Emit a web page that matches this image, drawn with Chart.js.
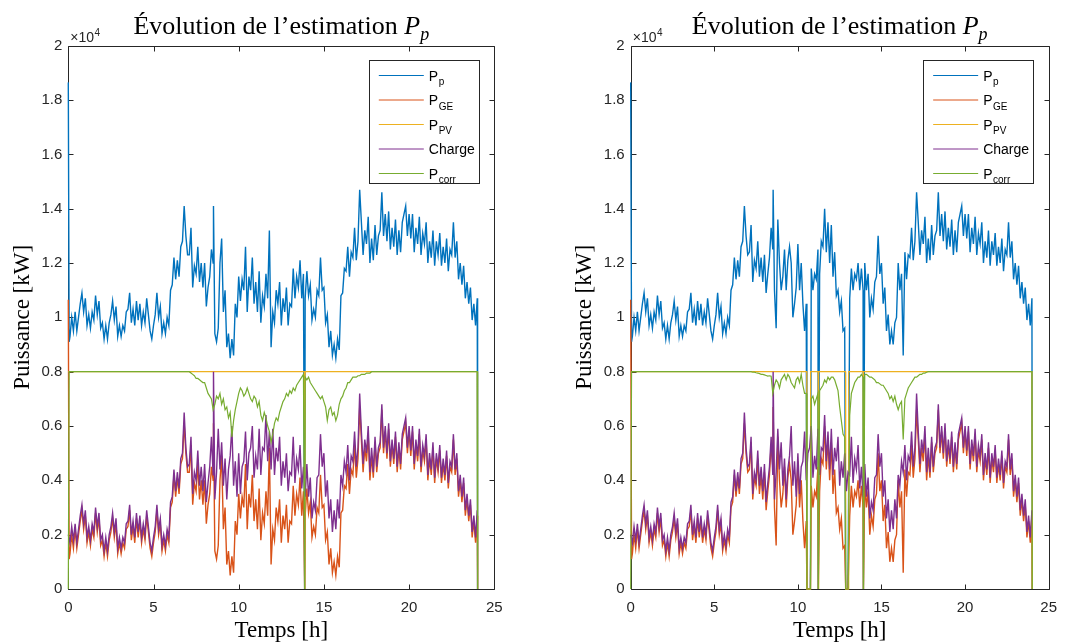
<!DOCTYPE html>
<html><head><meta charset="utf-8">
<script src="https://cdn.jsdelivr.net/npm/chart.js@4.4.1/dist/chart.umd.min.js"></script>
<style>
html,body{margin:0;padding:0;background:#fff;}
#wrap{position:relative;width:1067px;height:642px;overflow:hidden;background:#fff;}
canvas{position:absolute;top:0;}
</style></head><body>
<div id="wrap">
<canvas id="left" width="560" height="642" style="left:0px"></canvas>
<canvas id="right" width="507" height="642" style="left:560px"></canvas>
</div>
<script>
// ================= DATA (values in units of 100 kW, i.e. axis ×10^4 → 200 = 2) =================
const STEP_H = 0.1;            // sampling step of the curves [h]
const xTicks = [0, 5, 10, 15, 20, 25];
const yTicks = [0, 20, 40, 60, 80, 100, 120, 140, 160, 180, 200];

// Charge (load), identical in both plots, samples t = 0.1 … 24.0 h
const chargeFrom = 0.1;
const charge = [
 17,23,18,24,17,22,27,31,24,29,  19,23,18,24,21,30,23,28,18,20,
 14,19,14,20,23,28,21,26,15,19,  15,19,17,24,25,31,20,25,19,28,
 21,27,19,24,20,29,23,17,14,19,  23,31,22,26,16,20,16,22,19,32,
 34,44,36,43,37,48,50,65,52,45,  46,56,35,43,40,51,38,45,36,46,
 32,39,45,56,42,33,43,59,44,54,  38,48,33,44,49,60,38,47,34,50,
 35,45,47,58,40,50,52,60,41,49,  44,59,42,52,51,64,47,58,44,59,
 42,52,47,56,38,47,41,50,36,43,  42,56,39,48,44,53,37,45,34,46,
 34,41,26,32,29,41,42,57,45,50,  34,40,26,33,21,29,22,33,26,42,
 38,47,43,53,40,49,47,58,45,52,  72,58,46,55,50,60,43,52,43,56,
 45,52,54,68,52,60,50,61,47,55,  48,58,45,54,46,57,60,63,52,60,
 51,60,46,55,49,59,45,53,49,57,  42,50,44,54,41,50,45,53,41,48,
 42,51,39,47,45,57,44,50,36,42,  34,41,29,35,27,33,21,27,19,29];
const chargeExtra = [[0, 20], [8.52, 80]];

// Shared morning (0.1 … 7.0 h) and evening (18.1 … 24.0 h) samples of P_GE and P_p
const morningFrom = 0.1, eveningFrom = 18.1, dayFrom = 7.1;
const pgeMorning = [
 13,20,15,22,15,20,25,29,22,27,  17,21,16,22,19,28,21,26,16,18,
 12,17,12,18,21,26,19,24,13,17,  13,17,15,22,23,29,18,23,17,26,
 19,25,17,22,18,27,21,15,12,17,  21,29,20,24,14,18,14,20,17,30,
 32,42,34,41,35,46,48,61,50,43];
const ppMorning = [
 93,100,95,102,95,100,105,109,102,107,  97,101,96,102,99,108,101,106,96,98,
 92,97,92,98,101,106,99,104,93,97,      93,97,95,102,103,109,98,103,97,106,
 99,105,97,102,98,107,101,95,92,97,     101,109,100,104,94,98,94,100,97,110,
 112,122,114,121,115,126,128,141,130,123];
const pgeEvening = [
 43,50,52,66,50,58,48,59,45,53,  46,56,43,52,44,55,58,61,50,58,
 49,58,44,53,47,57,43,51,47,55,  40,48,42,52,39,48,43,51,39,46,
 40,49,37,45,43,55,42,48,34,40,  32,39,27,33,25,31,19,25,17,27];
const ppEvening = [
 123,130,132,146,130,138,128,139,125,133,  126,136,123,132,124,135,138,141,130,138,
 129,138,124,133,127,137,123,131,127,135,  120,128,122,132,119,128,123,131,119,126,
 120,129,117,125,123,135,122,128,114,120,  112,119,107,113,105,111,99,105,97,107];
const ppStart = [[0, 186.5], [0.05, 91]];
const pgeStart = [[0, 106.5], [0.05, 11]];
const pcorrFlat = [[0, 0], [0.05, 80], [7.0, 80], [18.1, 80], [24, 80], [24.02, 0]];

// ---- Left plot, day samples 7.1 … 18.0 h ----
const pgeLeftDay = [
 43,53,31,39,36,46,33,40,31,40,  24,31,35,45,40,14,11,16,40,49,
 22,30,9,14,5,12,6,25,20,35,     26,34,30,46,22,35,30,42,25,33,
 22,37,18,28,24,36,27,52,9,22,   18,30,25,33,17,27,22,31,17,25,
 24,38,27,35,31,41,27,36,27,37,  28,32,19,23,20,30,28,42,30,31,
 18,21,9,15,6,10,5,12,8,28,      29,38,37,46,35,44,42,53,41,48,
 67,55,43,52,47,57,40,49,41,54];
const ppLeftDay = [
 123,133,111,119,116,126,113,120,111,120,  104,111,115,125,120,94,91,96,120,129,
 102,110,89,94,85,92,86,105,100,115,       106,114,110,126,102,115,110,122,105,113,
 102,117,98,108,104,116,107,132,89,102,    98,110,105,113,97,107,102,111,97,105,
 104,118,107,115,111,121,107,116,107,117,  108,112,99,103,100,110,108,122,110,111,
 98,101,89,95,86,90,85,92,88,108,          109,118,117,126,115,124,122,133,121,128,
 147,135,123,132,127,137,120,129,121,134];
const pcorrLeftDay = [
 80,79.5,79,78.5,77.5,77.5,77,76.5,76,76,  74,72,71,70,66,68,71,70,72,68,
 70,66,67,63,65,56,62,66,69,72,            74,73,71,72,74,72,70,69,71,70,
 67,69,64,62,65,63,60,58,54,57,            61,63,62,65,67,69,70,72,71,73,
 72,74,73,75,76,77,78,79,78,77,            78,76,75,74,73,72,71,70,71,69,
 67,62,66,67,64,65,62,64,68,70,            71,73,74,76,76,77,78,78,78,78.5,
 78.5,79,79,79,79.5,79.5,79.5,80,80,80];
const ppvLeft = [[0,80],[13.86,80],[13.87,0],[13.89,0],[13.9,80],[24,80],[24.02,0]];
const ppLeftExtra = [[8.52,141],[13.87,0],[13.89,0],[24.02,0]];
const pgeLeftExtra = [[8.52,61],[13.87,0],[13.89,0],[24.02,0]];
const pcorrLeftExtra = [[13.87,0],[13.89,0]];

// ---- Right plot, day samples 7.1 … 18.0 h ----
const pgeRightDay = [
 44,54,33,41,38,48,35,42,33,43,  29,36,42,53,45,30,16,56,40,30,
 35,45,30,41,46,40,20,25,31,47,  30,40,25,15,25,0,0,38,30,36,
 34,45,36,48,46,60,44,55,40,54,  35,44,28,30,22,26,15,16,0,0,
 27,38,30,36,34,40,30,38,30,40,  30,36,20,27,23,33,35,50,36,40,
 25,31,15,21,10,15,10,18,20,40,  30,36,6,44,34,43,42,53,41,48,
 66,55,43,52,47,57,40,49,41,54];
const ppRightDay = [
 124,134,113,121,118,128,115,122,113,123,  109,116,122,133,125,110,96,136,120,110,
 115,125,110,121,126,120,100,105,111,127,  110,120,105,95,105,0,0,118,110,116,
 114,125,116,128,126,140,124,135,120,134,  115,124,108,110,102,106,95,96,0,0,
 107,118,110,116,114,120,110,118,110,120,  110,116,100,107,103,113,115,130,116,120,
 105,111,95,101,90,95,90,98,100,120,       110,116,86,124,114,123,122,133,121,128,
 146,135,123,132,127,137,120,129,121,134];
const pcorrRightDay = [
 80,80,79.8,79.8,79.6,79.5,79.3,79,79,78.8,  78.6,78.4,78.5,78.3,72,75,77,76,74,77,
 78,79,77,79,78,76,75,74,77,78,              76,79,75,72,72,0,0,70,71,68,
 70,72,73,74,75,77,76,78,77,78,              78,77,75,73,67,62,57,56,0,0,
 64,72,74,76,77,78,78,79,78,79,              79,78.5,78,78,77.5,77,76,76,75.5,75,
 75,74,73,72,70,71,69,71,68,66,              68,69,55,70,72,74,75,76,77,78,
 78,78.5,79,79,79.5,79.5,79.8,80,80,80];
const ppvRight = [[0,80],[10.53,80],[10.54,0],[10.75,0],[10.76,80],[11.21,80],[11.22,0],[11.25,0],[11.26,80],
 [12.85,80],[12.86,0],[13.03,0],[13.04,80],[13.9,80],[13.91,0],[13.93,0],[13.94,80],[24,80],[24.02,0]];
const rightDrops = [[10.54,0],[10.75,0],[11.22,0],[11.25,0],[12.86,0],[13.03,0],[13.91,0],[13.93,0]];
const ppRightExtra = [[8.52,147],[24.02,0]];
const pgeRightExtra = [[8.52,67],[24.02,0]];

const legendItems = [
  {main:'P', sub:'p'}, {main:'P', sub:'GE'}, {main:'P', sub:'PV'}, {main:'Charge', sub:''}, {main:'P', sub:'corr'}
];
const titleText = 'Évolution de l’estimation ';
const xLabel = 'Temps [h]';
const yLabel = 'Puissance [kW]';

// ================= STYLE / BUILD =================
const COLORS = ['#0072BD', '#D95319', '#EDB120', '#7E2F8E', '#77AC30'];
const INK = '#262626';

function sampled(from, vals) {
  return vals.map((v, i) => ({x: Math.round((from + i * STEP_H) * 100) / 100, y: v}));
}
function pairs(list) { return (list || []).map(p => ({x: p[0], y: p[1]})); }
function merge(...parts) {
  const pts = [].concat(...parts);
  return pts.map((p, i) => ({p, i})).sort((a, b) => (a.p.x - b.p.x) || (a.i - b.i)).map(o => o.p);
}

const matlabAxes = {
  id: 'matlabAxes',
  beforeDatasetsDraw(chart) {
    const {ctx, chartArea: a, scales: {x, y}} = chart;
    ctx.save();
    ctx.strokeStyle = INK; ctx.lineWidth = 1;
    const L = Math.round(a.left) + 0.5, R = Math.round(a.right) + 0.5;
    const T = Math.round(a.top) + 0.5, B = Math.round(a.bottom) + 0.5;
    ctx.beginPath();
    ctx.rect(L, T, R - L, B - T);
    xTicks.forEach(v => {
      const px = Math.round(x.getPixelForValue(v)) + 0.5;
      ctx.moveTo(px, B); ctx.lineTo(px, B - 5);
      ctx.moveTo(px, T); ctx.lineTo(px, T + 5);
    });
    yTicks.forEach(v => {
      const py = Math.round(y.getPixelForValue(v)) + 0.5;
      ctx.moveTo(L, py); ctx.lineTo(L + 5, py);
      ctx.moveTo(R, py); ctx.lineTo(R - 5, py);
    });
    ctx.stroke();
    ctx.restore();
  },
  afterDraw(chart) {
    const {ctx, chartArea: a} = chart;
    const cx = (a.left + a.right) / 2;
    ctx.save();
    ctx.fillStyle = '#000';
    ctx.textBaseline = 'alphabetic';
    // Title
    ctx.font = '26px "Liberation Serif"';
    const w1 = ctx.measureText(titleText).width;
    ctx.font = 'italic 26px "Liberation Serif"';
    const w2 = ctx.measureText('P').width;
    ctx.font = 'italic 18px "Liberation Serif"';
    const w3 = ctx.measureText('p').width;
    let tx = cx - (w1 + w2 + w3) / 2;
    ctx.textAlign = 'left';
    ctx.font = '26px "Liberation Serif"';
    ctx.fillText(titleText, tx, 34);
    tx += w1;
    ctx.font = 'italic 26px "Liberation Serif"';
    ctx.fillText('P', tx, 34);
    tx += w2;
    ctx.font = 'italic 18px "Liberation Serif"';
    ctx.fillText('p', tx, 39.5);
    // X label
    ctx.font = '23px "Liberation Serif"';
    ctx.textAlign = 'center';
    ctx.fillText(xLabel, cx, 637);
    // Y label
    ctx.save();
    ctx.translate(a.left - 39.5, (a.top + a.bottom) / 2);
    ctx.rotate(-Math.PI / 2);
    ctx.fillText(yLabel, 0, 0);
    ctx.restore();
    // exponent ×10^4
    ctx.fillStyle = INK;
    ctx.textAlign = 'left';
    ctx.font = '14px "Liberation Sans"';
    const ex = a.left + 2;
    ctx.fillText('×10', ex, 42);
    const we = ctx.measureText('×10').width;
    ctx.font = '10px "Liberation Sans"';
    ctx.fillText('4', ex + we + 0.5, 35.5);
    // Legend
    const lr = a.right - 15.5, ll = lr - 110, lt = 60.5, lb = 183.5;
    ctx.fillStyle = '#fff';
    ctx.fillRect(ll, lt, lr - ll, lb - lt);
    ctx.strokeStyle = INK; ctx.lineWidth = 1;
    ctx.strokeRect(Math.round(ll) + 0.5, lt, Math.round(lr - ll), lb - lt);
    legendItems.forEach((it, i) => {
      const ly = 75.5 + i * 24.5;
      ctx.strokeStyle = COLORS[i];
      ctx.beginPath();
      ctx.moveTo(ll + 10, ly); ctx.lineTo(ll + 55, ly);
      ctx.stroke();
      ctx.fillStyle = '#000';
      ctx.font = '14px "Liberation Sans"';
      ctx.fillText(it.main, ll + 60, ly + 5);
      if (it.sub) {
        const wm = ctx.measureText(it.main).width;
        ctx.font = '10px "Liberation Sans"';
        ctx.fillText(it.sub, ll + 60 + wm + 0.5, ly + 9.5);
      }
    });
    ctx.restore();
  }
};

function makeChart(id, axisLeft, axisRight, canvasWidth, ppPts, pgePts, ppvPts, pcorrPts) {
  const ds = (label, data, color, order, w) => ({
    label, data, borderColor: color, borderWidth: w, pointRadius: 0, fill: false,
    tension: 0, order, clip: 3
  });
  const chargePts = merge(sampled(chargeFrom, charge), pairs(chargeExtra));
  return new Chart(document.getElementById(id), {
    type: 'line',
    data: {
      datasets: [
        ds('Pp', ppPts, COLORS[0], 5, 1.4),
        ds('PGE', pgePts, COLORS[1], 4, 1.4),
        ds('PPV', ppvPts, COLORS[2], 3, 1.2),
        ds('Charge', chargePts, COLORS[3], 2, 1.4),
        ds('Pcorr', pcorrPts, COLORS[4], 1, 1.2)
      ]
    },
    options: {
      responsive: false, animation: false, devicePixelRatio: 1,
      layout: {padding: {left: 0, right: canvasWidth - axisRight, top: 45.7, bottom: 0}},
      plugins: {legend: {display: false}, tooltip: {enabled: false}, title: {display: false}},
      scales: {
        x: {
          type: 'linear', min: 0, max: 25,
          afterFit: s => { s.height = 642 - 589; },
          afterBuildTicks: s => { s.ticks = xTicks.map(v => ({value: v})); },
          grid: {display: false, drawTicks: false}, border: {display: false},
          ticks: {color: INK, font: {family: 'Liberation Sans', size: 15}, padding: 10, maxRotation: 0,
                  callback: v => String(v)}
        },
        y: {
          type: 'linear', min: 0, max: 200,
          afterFit: s => { s.width = axisLeft; },
          afterBuildTicks: s => { s.ticks = yTicks.map(v => ({value: v})); },
          grid: {display: false, drawTicks: false}, border: {display: false},
          ticks: {color: INK, font: {family: 'Liberation Sans', size: 15}, padding: 6,
                  callback: v => String(Math.round(v / 10) / 10)}
        }
      }
    },
    plugins: [matlabAxes]
  });
}

makeChart('left', 68.3, 494.3, 560,
  merge(pairs(ppStart), sampled(morningFrom, ppMorning), sampled(dayFrom, ppLeftDay), sampled(eveningFrom, ppEvening), pairs(ppLeftExtra)),
  merge(pairs(pgeStart), sampled(morningFrom, pgeMorning), sampled(dayFrom, pgeLeftDay), sampled(eveningFrom, pgeEvening), pairs(pgeLeftExtra)),
  pairs(ppvLeft),
  merge(pairs(pcorrFlat), sampled(dayFrom, pcorrLeftDay), pairs(pcorrLeftExtra)));

makeChart('right', 70.7, 495.7, 507,
  merge(pairs(ppStart), sampled(morningFrom, ppMorning), sampled(dayFrom, ppRightDay), sampled(eveningFrom, ppEvening), pairs(rightDrops), pairs(ppRightExtra)),
  merge(pairs(pgeStart), sampled(morningFrom, pgeMorning), sampled(dayFrom, pgeRightDay), sampled(eveningFrom, pgeEvening), pairs(rightDrops), pairs(pgeRightExtra)),
  pairs(ppvRight),
  merge(pairs(pcorrFlat), sampled(dayFrom, pcorrRightDay), pairs(rightDrops)));
</script>
</body></html>
